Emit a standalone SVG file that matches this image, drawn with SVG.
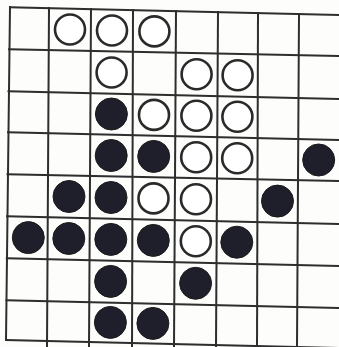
<svg xmlns="http://www.w3.org/2000/svg" width="339" height="347" viewBox="0 0 339 347">
<style>
.g line{stroke:#2e2e2e;stroke-width:2;stroke-linecap:square}
.w{fill:#fff;stroke:#2a2a2a;stroke-width:2.6}
.b{fill:#1f1f2b;stroke:#1a1a1a;stroke-width:1}
</style>
<rect width="339" height="347" fill="#fdfdfb"/>
<g id="grid" class="g">
<line x1="10" y1="7.2" x2="339" y2="15"/>
<line x1="9" y1="49.2" x2="339" y2="56"/>
<line x1="8.5" y1="91.2" x2="339" y2="99"/>
<line x1="8" y1="132.2" x2="339" y2="140"/>
<line x1="7.5" y1="174.2" x2="339" y2="181"/>
<line x1="7" y1="216.2" x2="339" y2="224"/>
<line x1="6.8" y1="258.2" x2="339" y2="266"/>
<line x1="6.5" y1="300.2" x2="339" y2="308"/>
<line x1="6.2" y1="340.1" x2="339" y2="348"/>
<line x1="10" y1="7" x2="6" y2="340"/>
<line x1="49" y1="8" x2="47" y2="347"/>
<line x1="91" y1="9" x2="89" y2="347"/>
<line x1="133" y1="10" x2="132" y2="347"/>
<line x1="176" y1="11" x2="174" y2="347"/>
<line x1="218" y1="12" x2="216" y2="347"/>
<line x1="258" y1="13" x2="257" y2="347"/>
<line x1="299" y1="14" x2="297" y2="347"/>
</g>
<g id="pieces">
<circle class="w" cx="70" cy="29.5" r="15"/>
<circle class="w" cx="112" cy="30.5" r="15"/>
<circle class="w" cx="154.4" cy="31.4" r="15"/>
<circle class="w" cx="111.6" cy="72.5" r="15"/>
<circle class="w" cx="196.6" cy="74.3" r="15"/>
<circle class="w" cx="237.6" cy="75.2" r="15"/>
<circle class="b" cx="111.4" cy="114" r="16"/>
<circle class="w" cx="154" cy="114.9" r="15"/>
<circle class="w" cx="196.4" cy="115.8" r="15"/>
<circle class="w" cx="237.4" cy="116.7" r="15"/>
<circle class="b" cx="111.2" cy="155.5" r="16"/>
<circle class="b" cx="153.7" cy="156.4" r="16"/>
<circle class="w" cx="196.2" cy="157.3" r="15"/>
<circle class="w" cx="237.2" cy="158.2" r="15"/>
<circle class="b" cx="318.7" cy="160" r="16"/>
<circle class="b" cx="69" cy="196.5" r="16"/>
<circle class="b" cx="111" cy="197.5" r="16"/>
<circle class="w" cx="153.5" cy="198.4" r="15"/>
<circle class="w" cx="196" cy="199.3" r="15"/>
<circle class="b" cx="277.5" cy="201.1" r="16"/>
<circle class="b" cx="28.3" cy="237.6" r="16"/>
<circle class="b" cx="68.8" cy="238.5" r="16"/>
<circle class="b" cx="110.8" cy="239.4" r="16"/>
<circle class="b" cx="153.3" cy="240.4" r="16"/>
<circle class="w" cx="195.8" cy="241.3" r="15"/>
<circle class="b" cx="236.8" cy="242.2" r="16"/>
<circle class="b" cx="110.6" cy="281.4" r="16"/>
<circle class="b" cx="195.6" cy="283.3" r="16"/>
<circle class="b" cx="110.4" cy="322.4" r="16"/>
<circle class="b" cx="152.9" cy="323.4" r="16"/>
</g>
</svg>
